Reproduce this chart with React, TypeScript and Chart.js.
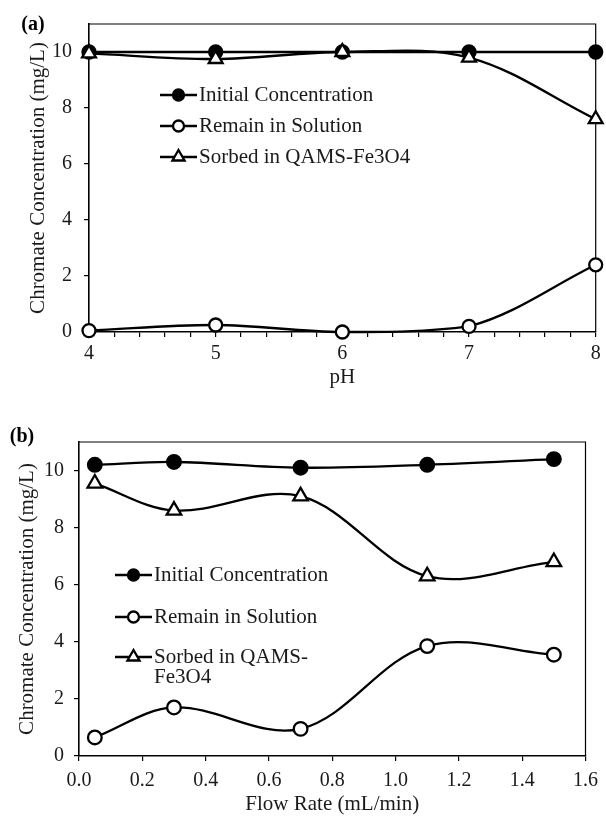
import React, { useEffect, useRef } from 'react';
import { Chart, registerables } from 'chart.js';

Chart.register(...registerables);

// ---------- data ----------
const phValues = [4, 5, 6, 7, 8];
const phInitial = [10, 10, 10, 10, 10];
const phRemain = [0.05, 0.25, 0.0, 0.2, 2.4];
const phSorbed = [9.95, 9.75, 10.0, 9.8, 7.6];

const flowValues = [0.05, 0.3, 0.7, 1.1, 1.5];
const flowInitial = [10.2, 10.3, 10.1, 10.2, 10.4];
const flowRemain = [0.65, 1.7, 0.95, 3.85, 3.55];
const flowSorbed = [9.55, 8.6, 9.1, 6.3, 6.8];

const seriesNames = ['Initial Concentration', 'Remain in Solution', 'Sorbed in QAMS-Fe3O4'];
const legendLinesA = [['Initial Concentration'], ['Remain in Solution'], ['Sorbed in QAMS-Fe3O4']];
const legendLinesB = [['Initial Concentration'], ['Remain in Solution'], ['Sorbed in QAMS-', 'Fe3O4']];
const yTitle = 'Chromate Concentration (mg/L)';
const xTitleA = 'pH';
const xTitleB = 'Flow Rate (mL/min)';
const panelA = '(a)';
const panelB = '(b)';

// ---------- styles ----------
const FONT = "'Liberation Serif', 'Times New Roman', serif";
const TEXT = '#1a1a1a';
const LW = 2.3;
const markerStyles = [
  { style: 'circle', fill: '#000', r: 6.5, lr: 5.5 },
  { style: 'circle', fill: '#fff', r: 6.5, lr: 5.5 },
  { style: 'triangle', fill: '#fff', r: 8, lr: 7 },
];

function drawMarker(ctx: CanvasRenderingContext2D, style: string, x: number, y: number, r: number, fill: string) {
  ctx.beginPath();
  if (style === 'circle') {
    ctx.arc(x, y, r, 0, Math.PI * 2);
  } else {
    for (let k = 0; k < 3; k++) {
      const a = (k * 2 * Math.PI) / 3;
      const px = x + Math.sin(a) * r;
      const py = y - Math.cos(a) * r;
      if (k === 0) ctx.moveTo(px, py);
      else ctx.lineTo(px, py);
    }
  }
  ctx.closePath();
  ctx.fillStyle = fill;
  ctx.fill();
  ctx.lineWidth = LW;
  ctx.strokeStyle = '#000';
  ctx.stroke();
}

const framePlugin = {
  id: 'frame',
  beforeDatasetsDraw(chart: any) {
    const { ctx, chartArea: a } = chart;
    ctx.save();
    ctx.strokeStyle = '#000';
    ctx.lineWidth = 1.2;
    ctx.beginPath();
    ctx.moveTo(a.left, a.top);
    ctx.lineTo(a.right, a.top);
    ctx.lineTo(a.right, a.bottom);
    ctx.stroke();
    ctx.restore();
  },
};

const overlayPlugin = {
  id: 'overlay',
  afterDraw(chart: any, _args: any, opts: any) {
    const { ctx } = chart;
    ctx.save();
    // panel label
    ctx.font = `bold 20px ${FONT}`;
    ctx.fillStyle = '#000';
    ctx.textAlign = 'center';
    ctx.textBaseline = 'middle';
    ctx.fillText(opts.panel, opts.panelX, opts.panelY);
    // legend
    ctx.font = `21px ${FONT}`;
    ctx.textAlign = 'left';
    opts.lines.forEach((lines: string[], i: number) => {
      const y = opts.rows[i];
      ctx.strokeStyle = '#000';
      ctx.lineWidth = LW;
      ctx.beginPath();
      ctx.moveTo(opts.x1, y);
      ctx.lineTo(opts.x2, y);
      ctx.stroke();
      const m = markerStyles[i];
      drawMarker(ctx, m.style, (opts.x1 + opts.x2) / 2, y, m.lr, m.fill);
      ctx.fillStyle = TEXT;
      lines.forEach((t, j) => ctx.fillText(t, opts.textX, y + j * opts.lineGap));
    });
    ctx.restore();
  },
};

function makeDatasets(xs: number[], series: number[][], radiusScale: number) {
  return series.map((vals, i) => ({
    label: seriesNames[i],
    data: xs.map((x, k) => ({ x, y: vals[k] })),
    borderColor: '#000',
    borderWidth: LW,
    backgroundColor: markerStyles[i].fill,
    pointStyle: markerStyles[i].style,
    pointRadius: markerStyles[i].r * radiusScale,
    pointBackgroundColor: markerStyles[i].fill,
    pointBorderColor: '#000',
    pointBorderWidth: LW,
    tension: 0.35,
    clip: false,
    order: 3 - i,
  }));
}

function axisX(min: number, max: number, title: string, height: number, padding: number, cb: (v: number) => string) {
  return {
    type: 'linear',
    min,
    max,
    ticks: {
      stepSize: 0.2,
      autoSkip: false,
      maxRotation: 0,
      minRotation: 0,
      padding,
      color: TEXT,
      font: { family: FONT, size: 20 },
      callback: (v: any) => cb(Number(v)),
    },
    grid: { drawOnChartArea: false, drawTicks: true, tickLength: 5, color: '#000', lineWidth: 1.2 },
    border: { display: true, color: '#000', width: 1.6 },
    title: { display: true, text: title, color: TEXT, font: { family: FONT, size: 21 }, padding: 0 },
    afterFit: (s: any) => {
      s.height = height;
    },
  };
}

function axisY(width: number, titlePad: number, tickPad: number) {
  return {
    type: 'linear',
    min: 0,
    max: 11,
    ticks: {
      stepSize: 2,
      includeBounds: false,
      padding: tickPad,
      color: TEXT,
      font: { family: FONT, size: 20 },
    },
    grid: { drawOnChartArea: false, drawTicks: true, tickLength: 5, color: '#000', lineWidth: 1.2 },
    border: { display: true, color: '#000', width: 1.6 },
    title: {
      display: true,
      text: yTitle,
      color: TEXT,
      font: { family: FONT, size: 21 },
      padding: { top: titlePad, bottom: 0 },
    },
    afterFit: (s: any) => {
      s.width = width;
    },
  };
}

function ChartCanvas({ config, width, height }: { config: any; width: number; height: number }) {
  const ref = useRef<HTMLCanvasElement | null>(null);
  useEffect(() => {
    if (!ref.current) return;
    const chart = new Chart(ref.current, config);
    return () => chart.destroy();
  }, [config]);
  return <canvas ref={ref} width={width} height={height} style={{ display: 'block', width, height }} />;
}

const configA = {
  type: 'line',
  data: { datasets: makeDatasets(phValues, [phInitial, phRemain, phSorbed], 1) },
  options: {
    animation: false,
    responsive: false,
    devicePixelRatio: 1,
    layout: { padding: { left: 0, right: 7, top: 21, bottom: 0 } },
    plugins: {
      legend: { display: false },
      tooltip: { enabled: false },
      overlay: {
        panel: panelA,
        panelX: 33,
        panelY: 25,
        x1: 160,
        x2: 197,
        textX: 199,
        rows: [95, 126, 157],
        lineGap: 20,
        lines: legendLinesA,
      },
    },
    scales: {
      x: axisX(4, 8, xTitleA, 58, 5, (v) => (Math.abs(v - Math.round(v)) < 1e-6 ? String(Math.round(v)) : '')),
      y: axisY(89, 26, 12),
    },
  },
  plugins: [framePlugin, overlayPlugin],
};

const configB = {
  type: 'line',
  data: { datasets: makeDatasets(flowValues, [flowInitial, flowRemain, flowSorbed], 1.05) },
  options: {
    animation: false,
    responsive: false,
    devicePixelRatio: 1,
    layout: { padding: { left: 0, right: 15, top: 52, bottom: 3 } },
    plugins: {
      legend: { display: false },
      tooltip: { enabled: false },
      overlay: {
        panel: panelB,
        panelX: 22,
        panelY: 47,
        x1: 115,
        x2: 152,
        textX: 154,
        rows: [185, 227, 267],
        lineGap: 20,
        lines: legendLinesB,
      },
    },
    scales: {
      x: axisX(0, 1.6, xTitleB, 61, 8, (v) => v.toFixed(1)),
      y: axisY(79, 15, 10),
    },
  },
  plugins: [framePlugin, overlayPlugin],
};

export default function App() {
  return (
    <div style={{ position: 'fixed', left: 0, top: 0, width: 606, height: 820, background: '#fff' }}>
      <ChartCanvas config={configA} width={606} height={390} />
      <ChartCanvas config={configB} width={606} height={430} />
    </div>
  );
}
